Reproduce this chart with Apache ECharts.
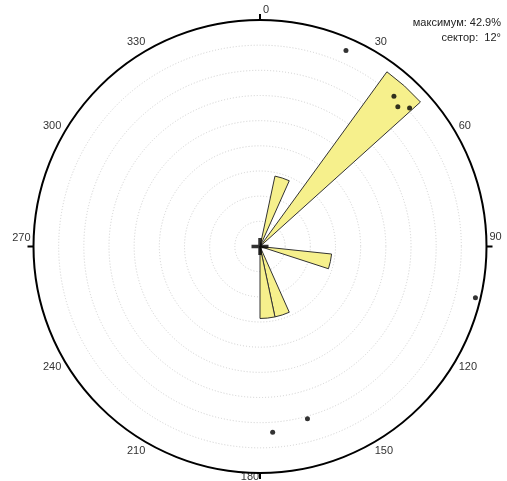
<!DOCTYPE html>
<html>
<head>
<meta charset="utf-8">
<script src="https://cdn.jsdelivr.net/npm/echarts@6/dist/echarts.min.js"></script>
<style>
  html, body { margin: 0; padding: 0; background: #fff; }
  #chart { width: 507px; height: 481px; }
</style>
</head>
<body>
<div id="chart"></div>
<script>
// Rose diagram: 12° sectors, radial scale in percent of all measurements
const sectorSize = 12;
const sectorStarts = [12, 36, 96, 156, 168];          // azimuth where each filled sector begins
const sectorPercent = [14.3, 42.9, 14.3, 14.3, 14.3]; // share of measurements per sector, %

// Individual measurements: azimuth (deg) and dip (deg)
const pointAzimuth = [23.7, 41.7, 44.6, 47.2, 103.4, 164.6, 176.1];
const pointDip = [85, 80, 78, 81, 88, 71, 74];

// Compass labels
const compassTicks = [0, 30, 60, 90, 120, 150, 180, 210, 240, 270, 300, 330];

const CENTER = [260, 246.5];
const RADIUS = 226.5;
const FONT = 'Arial, "Liberation Sans", sans-serif';

// 30 bins of 12° each
const binCount = 360 / sectorSize;
const binNames = [];
const binValues = [];
for (let i = 0; i < binCount; i++) {
  binNames.push(String(i * sectorSize));
  binValues.push(0);
}
sectorStarts.forEach((s, k) => { binValues[s / sectorSize] = sectorPercent[k]; });

const maxPercent = Math.max(...sectorPercent);

// small nudges for the cardinal labels
const labelRich = {
  n: { padding: [0, 0, 2, 12] },
  e: { padding: [0, 0, 19, 0] },
  s: { padding: [0, 20, 0, 0], lineHeight: 1 },
  w: { padding: [0, 0, 17, 0] },
  d: {}
};
function compassLabel(v) {
  if (v === 360) return '';
  if (compassTicks.indexOf(v) < 0) return '';
  const key = v === 0 ? 'n' : v === 90 ? 'e' : v === 180 ? 's' : v === 270 ? 'w' : 'd';
  return '{' + key + '|' + v + '}';
}

const chart = echarts.init(document.getElementById('chart'), null, { renderer: 'canvas' });

const hiddenAxis = {
  axisLine: { show: false }, axisTick: { show: false },
  axisLabel: { show: false }, splitLine: { show: false }
};

chart.setOption({
  animation: false,
  backgroundColor: '#ffffff',
  polar: [
    { center: CENTER, radius: RADIUS },
    { center: CENTER, radius: RADIUS },
    { center: CENTER, radius: RADIUS }
  ],
  angleAxis: [
    Object.assign({
      polarIndex: 0, type: 'category', data: binNames,
      startAngle: 90, clockwise: true, boundaryGap: true
    }, hiddenAxis),
    {
      polarIndex: 1, type: 'value', min: 0, max: 360, interval: 30,
      startAngle: 90, clockwise: true,
      axisLine: { show: false }, axisTick: { show: false }, splitLine: { show: false },
      axisLabel: {
        show: true, margin: 3, color: '#333', fontSize: 11, fontFamily: FONT,
        formatter: compassLabel, rich: labelRich
      }
    },
    {
      polarIndex: 2, type: 'value', min: 0, max: 360, interval: 90,
      startAngle: 90, clockwise: true, z: 10,
      axisLine: { show: true, lineStyle: { color: '#000', width: 2 } },
      axisTick: { show: true, length: 6, lineStyle: { color: '#000', width: 2 } },
      axisLabel: { show: false }, splitLine: { show: false }
    }
  ],
  radiusAxis: [
    {
      polarIndex: 0, type: 'value', min: 0, max: 45, interval: 5,
      axisLine: { show: false }, axisTick: { show: false }, axisLabel: { show: false },
      splitLine: { show: true, lineStyle: { color: '#cfcfcf', width: 1, type: [1, 2] } }
    },
    Object.assign({ polarIndex: 1, type: 'value', min: 0, max: 90 }, hiddenAxis),
    Object.assign({ polarIndex: 2, type: 'value', min: 0, max: 1 }, hiddenAxis)
  ],
  series: [
    {
      type: 'bar', coordinateSystem: 'polar', polarIndex: 0,
      data: binValues, barCategoryGap: '0%', barWidth: '100%',
      itemStyle: { color: '#f6f08c', borderColor: '#333', borderWidth: 1 },
      z: 2
    },
    {
      type: 'scatter', coordinateSystem: 'polar', polarIndex: 1,
      data: pointAzimuth.map((a, i) => [pointDip[i], a]),
      symbol: 'circle', symbolSize: 5,
      itemStyle: { color: '#000' },
      z: 5
    },
    {
      type: 'scatter', coordinateSystem: 'polar', polarIndex: 1,
      data: [[0, 0]],
      symbol: 'path://M-1.75,-8.5 h3.5 v6.75 h6.75 v3.5 h-6.75 v6.75 h-3.5 v-6.75 h-6.75 v-3.5 h6.75 z',
      symbolSize: 17,
      itemStyle: { color: '#000' },
      z: 6
    }
  ],
  graphic: [
    {
      type: 'text', right: 6, top: 17,
      style: {
        text: 'максимум: ' + maxPercent.toFixed(1) + '%',
        fill: '#222', font: '11px ' + FONT, textAlign: 'right'
      }
    },
    {
      type: 'text', right: 6, top: 32,
      style: {
        text: 'сектор:  ' + sectorSize + '°',
        fill: '#222', font: '11px ' + FONT, textAlign: 'right'
      }
    }
  ]
});
</script>
</body>
</html>
